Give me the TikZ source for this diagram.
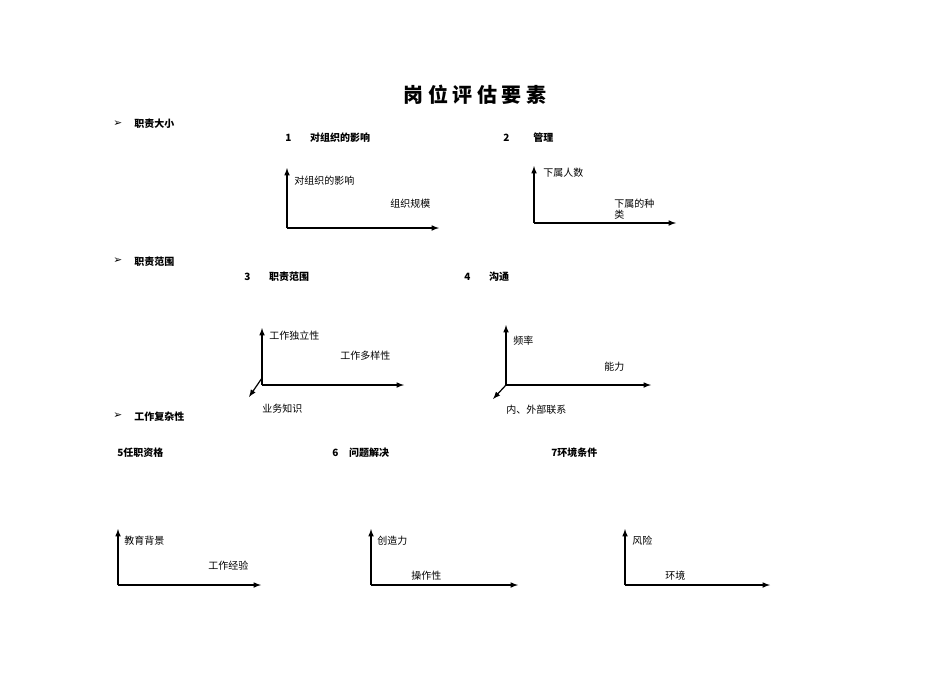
\documentclass[tikz,border=0pt]{standalone}
\usepackage{fontspec}
\setmainfont{Noto Sans CJK SC}
\newfontfamily\dv{DejaVu Sans}
\begin{document}
\begin{tikzpicture}[x=0.75pt,y=-0.75pt,
  ax/.style={line width=0.9pt,-latex},
  lb/.style={font=\fontsize{7.5}{8}\selectfont,anchor=west,inner sep=0pt},
  hd/.style={font=\fontsize{7.5}{8}\selectfont\bfseries,anchor=west,inner sep=0pt},
  bl/.style={font=\fontsize{8}{8}\dv,anchor=west,inner sep=0pt}]
\useasboundingbox (0,0) rectangle (950,672);
\node[font=\fontsize{15}{16}\selectfont\bfseries] (title) at (475,95) {岗 位 评 估 要 素};
\node[bl] (b1) at (113,124) {➢}; \node[hd] (s1) at (134,124) {职责大小};
\node[bl] (b2) at (113,261) {➢}; \node[hd] (s2) at (134,262) {职责范围};
\node[bl] (b3) at (113,416) {➢}; \node[hd] (s3) at (134,417) {工作复杂性};
\node[hd] (h1) at (285,138) {1\hspace{14pt}对组织的影响};
\node[hd] (h2) at (503,138) {2\hspace{18pt}管理};
\node[hd] (h3) at (244,277) {3\hspace{14pt}职责范围};
\node[hd] (h4) at (464,277) {4\hspace{14pt}沟通};
\node[hd] (h5) at (117,453) {5任职资格};
\node[hd] (h6) at (332,453) {6\hspace{8pt}问题解决};
\node[hd] (h7) at (551,453) {7环境条件};
% 1
\coordinate (o1) at (287,228);\coordinate (y1) at (287,168);\coordinate (x1) at (439,228);
\draw[ax] (o1)--(y1); \draw[ax] (o1)--(x1);
\node[lb] (l1a) at (294,181) {对组织的影响};
\node[lb] (l1b) at (390,204) {组织规模};
% 2
\coordinate (o2) at (534,223);\coordinate (y2) at (534,166);\coordinate (x2) at (676,223);
\draw[ax] (o2)--(y2); \draw[ax] (o2)--(x2);
\node[lb] (l2a) at (543,173) {下属人数};
\node[lb,align=left,anchor=north west] (l2b) at (614,199) {下属的种\\类};
% 3
\coordinate (o3) at (262,385);\coordinate (y3) at (262,328);\coordinate (x3) at (404,385);\coordinate (z3) at (249,397);
\draw[ax] (o3)--(y3); \draw[ax] (o3)--(x3); \draw[ax] (262,378)--(z3);
\node[lb] (l3a) at (269,336) {工作独立性};
\node[lb] (l3b) at (340,356) {工作多样性};
\node[lb] (l3c) at (262,409) {业务知识};
% 4
\coordinate (o4) at (506,385);\coordinate (y4) at (506,325);\coordinate (x4) at (651,385);\coordinate (z4) at (493,399);
\draw[ax] (o4)--(y4); \draw[ax] (o4)--(x4); \draw[ax] (o4)--(z4);
\node[lb] (l4a) at (513,341) {频率};
\node[lb] (l4b) at (604,367) {能力};
\node[lb] (l4c) at (506,410) {内、外部联系};
% 5
\coordinate (o5) at (118,585);\coordinate (y5) at (118,529);\coordinate (x5) at (261,585);
\draw[ax] (o5)--(y5); \draw[ax] (o5)--(x5);
\node[lb] (l5a) at (124,541) {教育背景};
\node[lb] (l5b) at (208,566) {工作经验};
% 6
\coordinate (o6) at (371,585);\coordinate (y6) at (371,529);\coordinate (x6) at (518,585);
\draw[ax] (o6)--(y6); \draw[ax] (o6)--(x6);
\node[lb] (l6a) at (377,541) {创造力};
\node[lb] (l6b) at (411,576) {操作性};
% 7
\coordinate (o7) at (625,585);\coordinate (y7) at (625,529);\coordinate (x7) at (770,585);
\draw[ax] (o7)--(y7); \draw[ax] (o7)--(x7);
\node[lb] (l7a) at (632,541) {风险};
\node[lb] (l7b) at (665,576) {环境};
\end{tikzpicture}
\end{document}
